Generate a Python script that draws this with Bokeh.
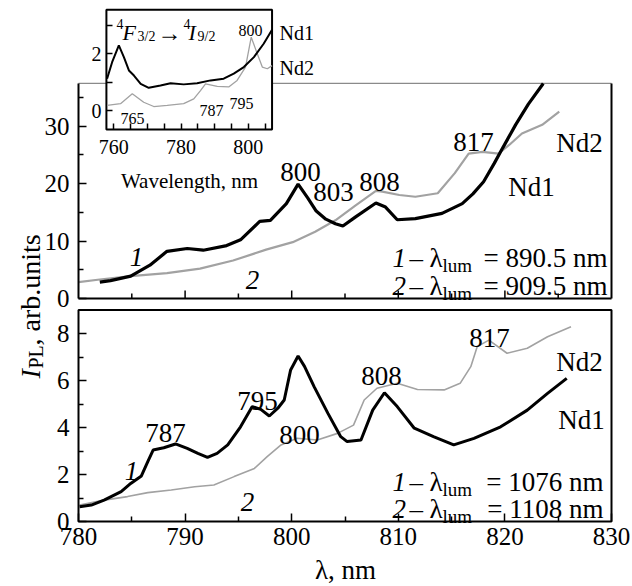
import math
from bokeh.plotting import figure
from bokeh.models import Range1d, FixedTicker, Label, LinearAxis
from bokeh.embed import file_html
from bokeh.resources import INLINE

FONT = "Liberation Serif"
GRAY = "#a2a2a2"

# ---------------- data ----------------
# upper panel: 1 - lambda_lum = 890.5 nm (Nd1), 2 - lambda_lum = 909.5 nm (Nd2)
top_nd1_x = [782.0, 783.0, 784.9, 786.7, 788.3, 790.2, 791.7, 793.9, 795.2, 797.0, 798.0,
             799.5, 800.6, 801.5, 802.3, 803.2, 804.1, 804.8, 806.0, 807.9, 808.8, 809.9,
             811.6, 814.1, 816.0, 817.0, 818.0, 819.0, 819.8, 821.0, 822.2, 823.6]
top_nd1_y = [2.85, 3.1, 3.9, 5.8, 8.2, 8.7, 8.4, 9.2, 10.2, 13.4, 13.6,
             16.5, 19.9, 17.5, 15.2, 13.8, 13.0, 12.6, 14.2, 16.6, 15.9, 13.7,
             13.9, 14.8, 16.5, 18.2, 20.3, 23.5, 26.2, 30.2, 33.8, 37.4]
top_nd2_x = [780.0, 782.0, 784.9, 788.3, 791.4, 794.5, 797.6, 800.1, 802.2, 804.1, 806.0,
             807.9, 808.5, 810.1, 811.6, 813.7, 815.3, 816.6, 817.9, 819.4, 820.4, 821.6,
             823.5, 825.1]
top_nd2_y = [2.85, 3.3, 3.9, 4.4, 5.2, 6.6, 8.5, 9.8, 11.6, 13.6, 16.2,
             18.7, 18.6, 18.0, 17.7, 18.3, 21.8, 25.2, 25.5, 25.2, 26.7, 28.7,
             30.2, 32.5]

# lower panel: 1 - lambda_lum = 1076 nm (Nd1), 2 - lambda_lum = 1108 nm (Nd2)
bot_nd1_x = [780.1, 781.2, 782.4, 784.0, 784.9, 785.9, 786.5, 787.0, 788.0, 789.1, 790.2,
             791.2, 792.1, 793.0, 794.0, 795.2, 796.3, 797.1, 797.9, 798.7, 799.3, 799.9,
             800.6, 801.2, 802.1, 803.4, 804.6, 805.2, 806.5, 807.6, 808.7, 809.9, 811.5,
             813.3, 815.2, 817.1, 819.6, 822.1, 824.0, 825.8]
bot_nd1_y = [0.63, 0.70, 0.91, 1.27, 1.62, 1.94, 2.55, 3.04, 3.14, 3.30, 3.11,
             2.90, 2.73, 2.90, 3.26, 4.03, 4.89, 4.77, 4.49, 4.82, 5.17, 6.45,
             7.04, 6.6, 5.74, 4.6, 3.61, 3.40, 3.47, 4.74, 5.48, 4.89, 3.97,
             3.61, 3.26, 3.54, 4.03, 4.74, 5.45, 6.09]
bot_nd2_x = [780.1, 782.4, 784.6, 786.5, 788.7, 790.9, 792.7, 794.6, 796.5, 797.7, 799.0,
             800.5, 802.4, 804.3, 805.8, 806.8, 808.0, 809.9, 811.8, 814.3, 815.8, 816.8,
             817.4, 818.5, 820.2, 822.1, 824.0, 826.2]
bot_nd2_y = [0.70, 0.91, 1.06, 1.23, 1.34, 1.48, 1.55, 1.91, 2.26, 2.76, 3.26,
             3.54, 3.47, 3.75, 4.10, 5.17, 5.67, 5.88, 5.62, 5.60, 5.88, 6.59,
             7.44, 7.72, 7.16, 7.37, 7.86, 8.29]

# inset: 4F3/2 -> 4I9/2
ins_nd1_x = [758.0, 759.5, 761.5, 763.0, 764.5, 766.0, 768.0, 770.4, 773.9, 776.9, 780.8,
             784.8, 788.8, 792.7, 795.7, 798.7, 801.7, 804.6, 807.1]
ins_nd1_y = [1.12, 1.70, 2.29, 1.88, 1.41, 1.23, 0.94, 0.80, 0.88, 0.96, 0.92,
             0.96, 1.06, 1.12, 1.30, 1.53, 1.88, 2.35, 2.84]
ins_nd2_x = [758.0, 762.0, 765.5, 768.9, 771.9, 775.9, 780.8, 783.8, 785.8, 787.3, 790.8,
             794.2, 796.7, 799.2, 800.9, 802.7, 804.2, 805.7, 807.1]
ins_nd2_y = [0.18, 0.24, 0.59, 0.29, 0.14, 0.18, 0.24, 0.41, 0.70, 0.94, 0.85,
             0.83, 1.06, 1.53, 2.58, 2.0, 1.53, 1.47, 1.58]

# ticks
x_major = [780, 790, 800, 810, 820, 830]
x_minor = [785, 795, 805, 815, 825]
top_y_major = [0, 10, 20, 30]
top_y_minor = [5, 15, 25, 35]
bot_y_major = [0, 2, 4, 6, 8]
bot_y_minor = [1, 3, 5, 7]
ins_x_major = [760, 780, 800]
ins_x_minor = [765, 770, 775, 785, 790, 795, 805]
ins_y_major = [0, 2]
ins_y_minor = [1, 3]
TOP_YMAX = 37.4
BOT_YMAX = 9.0
INS_BOX = (757.8, 807.1, -0.67, 3.55)

# ---------------- layout (page pixels) ----------------
W, H = 632, 586
FL, FR, FT, FB = 0, W, 0, H
X780, SX = 78.0, 533.0 / 50.0
Y0B, SYB = 521.0, 23.5
Y0T, SYT = 298.0, 5.75
I760, SXI = 113.3, 3.36
I0, SYI = 110.0, 28.4

xr = Range1d(780 - (X780 - FL) / SX, 780 + (FR - X780) / SX)
ybr = Range1d(-(FB - Y0B) / SYB, (Y0B - FT) / SYB)
ytr = Range1d(-(FB - Y0T) / SYT, (Y0T - FT) / SYT)
xir = Range1d(760 - (I760 - FL) / SXI, 760 + (FR - I760) / SXI)
yir = Range1d(-(FB - I0) / SYI, (I0 - FT) / SYI)


def PX(px):
    return xr.start + (px - FL) / (FR - FL) * (xr.end - xr.start)


def PY(py):
    return ybr.start + (FB - py) / (FB - FT) * (ybr.end - ybr.start)


p = figure(width=W, height=H, x_range=xr, y_range=ybr, title=None,
           output_backend="svg", toolbar_location=None, x_axis_type=None, y_axis_type=None,
           min_border=0, min_border_left=0, min_border_right=0, min_border_top=0, min_border_bottom=0)
p.extra_y_ranges = {"t": ytr, "iy": yir}
p.extra_x_ranges = {"ix": xir}
p.outline_line_color = None
p.background_fill_color = "white"
p.border_fill_color = "white"


def style(a, size, tick_major, tick_minor, standoff):
    a.axis_line_color = None
    a.major_tick_in = tick_major
    a.major_tick_out = 0
    a.minor_tick_in = tick_minor
    a.minor_tick_out = 0
    a.major_tick_line_width = 1.5
    a.minor_tick_line_width = 1.5
    a.major_tick_line_color = "black"
    a.minor_tick_line_color = "black"
    a.major_label_text_font = FONT
    a.major_label_text_font_size = f"{size}px"
    a.major_label_text_color = "black"
    a.major_label_standoff = standoff


# main axes, fixed at the panel edges
ax_bot = LinearAxis(ticker=FixedTicker(ticks=x_major, minor_ticks=x_minor), fixed_location=0,
                    bounds=(780, 830))
style(ax_bot, 25, 8, 5, 6)
p.add_layout(ax_bot, "below")
ay_bot = LinearAxis(ticker=FixedTicker(ticks=bot_y_major, minor_ticks=bot_y_minor), fixed_location=780,
                    bounds=(0, BOT_YMAX))
style(ay_bot, 25, 8, 5, 9)
p.add_layout(ay_bot, "left")
ay_top = LinearAxis(ticker=FixedTicker(ticks=top_y_major, minor_ticks=top_y_minor), fixed_location=780,
                    bounds=(0, TOP_YMAX), y_range_name="t")
style(ay_top, 25, 8, 5, 9)
p.add_layout(ay_top, "left")

# thin gray top border of the upper panel
p.line([780, 830], [TOP_YMAX, TOP_YMAX], y_range_name="t", line_color="#8a8a8a", line_width=1.2)

# inset
p.quad(left=[INS_BOX[0]], right=[INS_BOX[1]], bottom=[INS_BOX[2]], top=[INS_BOX[3]],
       x_range_name="ix", y_range_name="iy", fill_color="white", line_color="black", line_width=2)
p.line(ins_nd2_x, ins_nd2_y, x_range_name="ix", y_range_name="iy", line_color=GRAY, line_width=1.3)
p.line(ins_nd1_x, ins_nd1_y, x_range_name="ix", y_range_name="iy", line_color="black", line_width=2)
ax_ins = LinearAxis(ticker=FixedTicker(ticks=ins_x_major, minor_ticks=ins_x_minor),
                    fixed_location=INS_BOX[2], bounds=(INS_BOX[0], INS_BOX[1]),
                    x_range_name="ix", y_range_name="iy")
style(ax_ins, 20, 6, 6, 10)
p.add_layout(ax_ins, "below")
ay_ins = LinearAxis(ticker=FixedTicker(ticks=ins_y_major, minor_ticks=ins_y_minor),
                    fixed_location=INS_BOX[0], bounds=(INS_BOX[2], INS_BOX[3]),
                    x_range_name="ix", y_range_name="iy")
style(ay_ins, 20, 6, 6, 5)
p.add_layout(ay_ins, "left")

# curves
p.line(top_nd2_x, top_nd2_y, y_range_name="t", line_color=GRAY, line_width=2.2)
p.line(top_nd1_x, top_nd1_y, y_range_name="t", line_color="black", line_width=3.2)
p.line(bot_nd2_x, bot_nd2_y, line_color=GRAY, line_width=1.6)
p.line(bot_nd1_x, bot_nd1_y, line_color="black", line_width=3.0)

# upper panel frame and its bottom ticks; lower panel frame
p.multi_line(xs=[[780, 780], [830, 830], [780, 830]], ys=[[0, TOP_YMAX], [0, TOP_YMAX], [0, 0]],
             y_range_name="t", line_color="black", line_width=2)
tick_x = x_major[1:-1] + x_minor
tick_len = [8 / SYT] * (len(x_major) - 2) + [5 / SYT] * len(x_minor)
p.segment(x0=tick_x, y0=[0] * len(tick_x), x1=tick_x, y1=tick_len, y_range_name="t",
          line_color="black", line_width=1.5)
p.quad(left=[780], right=[830], bottom=[0], top=[BOT_YMAX], fill_color=None,
       line_color="black", line_width=2)


def put(text, x, y, size, italic=False, align="left", angle=0.0):
    p.add_layout(Label(x=x, y=y, text=text,
                       text_font=FONT, text_font_size=f"{size}px",
                       text_font_style="italic" if italic else "normal",
                       text_align=align, text_baseline="alphabetic", angle=angle,
                       text_color="black"))


# upper-panel annotations (page px: centre x, baseline y)
for t, cx, by in [("800", 300, 171), ("803", 333, 191), ("808", 379, 181), ("817", 473, 141),
                  ("Nd2", 579, 142), ("Nd1", 531, 186)]:
    put(t, PX(cx), PY(by), 27, align="center")
put("1", PX(136), PY(256), 27, italic=True, align="center")
put("2", PX(252), PY(279), 27, italic=True, align="center")

# lower-panel annotations
for t, cx, by in [("787", 165, 432), ("795", 257, 400), ("800", 299, 434), ("808", 381, 375),
                  ("817", 489, 337), ("Nd2", 579, 361), ("Nd1", 581, 419)]:
    put(t, PX(cx), PY(by), 27, align="center")
put("1", PX(131), PY(470), 27, italic=True, align="center")
put("2", PX(247), PY(501), 27, italic=True, align="center")


# legends
def legend(num, rest, base, right):
    put(num, PX(392), PY(base), 27, italic=True)
    put("–", PX(409), PY(base), 27)
    put("λ", PX(429), PY(base), 27)
    put("lum", PX(442), PY(base + 8), 19)
    put(rest, PX(right), PY(base), 27, align="right")


legend("1", "= 890.5 nm", 257, 607)
legend("2", "= 909.5 nm", 285, 607)
legend("1", "= 1076 nm", 481, 603)
legend("2", "= 1108 nm", 508, 603)

# axis titles
put("λ, nm", PX(345), PY(569), 27, align="center")
put("I", PX(30), PY(378), 28, italic=True, angle=math.pi / 2)
put("PL", PX(35), PY(368), 20, angle=math.pi / 2)
put(", arb.units", PX(30), PY(345), 28, angle=math.pi / 2)

# inset texts
put("Wavelength, nm", PX(189), PY(180), 21, align="center")
for t, cx, by in [("800", 250, 30), ("765", 132, 118), ("787", 211, 110), ("795", 241, 103)]:
    put(t, PX(cx), PY(by), 16, align="center")
put("Nd1", PX(279), PY(32), 20)
put("Nd2", PX(279), PY(67), 20)
for t, lx, by, sz, it in [("4", 116, 23, 14, False), ("F", 122, 32, 22, True), ("3/2", 137, 36, 14, False),
                          ("→", 157, 32, 24, False), ("4", 183, 23, 14, False), ("I", 188, 32, 22, True),
                          ("9/2", 197, 36, 14, False)]:
    put(t, PX(lx), PY(by), sz, italic=it)

open("out.html", "w").write(file_html(p, INLINE))
